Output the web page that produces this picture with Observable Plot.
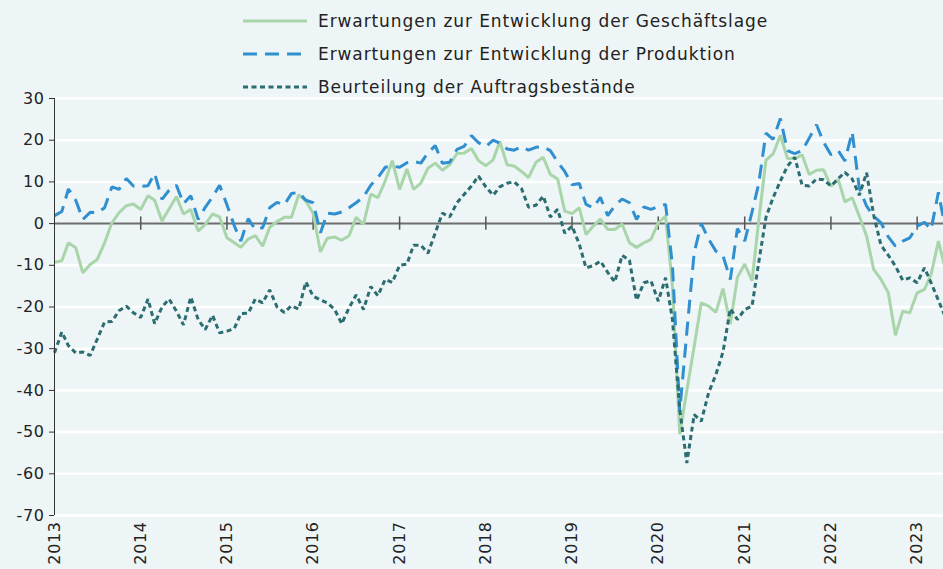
<!DOCTYPE html>
<html><head><meta charset="utf-8">
<script src="https://cdn.jsdelivr.net/npm/d3@7"></script>
<script src="https://cdn.jsdelivr.net/npm/@observablehq/plot@0.6"></script>
<style>
html,body{margin:0;padding:0;background:#eef5f6;}
#wrap{position:relative;width:943px;height:569px;overflow:hidden;background:#eef5f6;font-family:"DejaVu Sans",sans-serif;}
#legend{position:absolute;left:243px;top:4px;}
.row{display:flex;align-items:center;height:33px;font-size:17px;letter-spacing:0.9px;color:#222;white-space:nowrap;}
.row svg{margin-right:11px;}
#chart{position:absolute;left:0;top:0;}
#chart text{letter-spacing:0.6px;}
</style></head><body>
<div id="wrap"><div id="chart"></div><div id="legend"></div></div>
<script>
// Monthly series, Jan 2013 – May 2023
const seriesNames = [
  "Erwartungen zur Entwicklung der Geschäftslage",
  "Erwartungen zur Entwicklung der Produktion",
  "Beurteilung der Auftragsbestände"
];
const geschaeftslage = [
  -9.3, -8.9, -4.6, -5.8, -11.8, -9.8, -8.6, -4.6, 0.2, 2.6, 4.3, 4.7,
  3.4, 6.7, 5.6, 0.6, 3.5, 6.5, 2.3, 3.4, -1.8, -0.2, 2.3, 1.6,
  -3.4, -4.6, -5.7, -3.7, -2.9, -5.4, -0.9, 0.5, 1.5, 1.5, 6.9, 5.4,
  2.5, -6.8, -3.5, -3.2, -4.0, -2.9, 1.5, -0.2, 7.1, 6.2, 10.2, 15.1,
  8.2, 13.1, 8.2, 9.7, 13.3, 14.5, 12.8, 14.1, 16.8, 16.9, 18.0, 15.1,
  13.9, 15.3, 19.7, 14.1, 13.8, 12.5, 11.0, 14.7, 15.9, 11.8, 10.7, 3.0,
  2.4, 3.8, -2.6, -0.6, 1.1, -1.4, -1.4, -0.1, -4.6, -5.7, -4.6, -3.8,
  0.2, 1.8, -15, -50.5, -40, -29.5, -19, -19.8, -21.3, -15.6, -24.1, -12.9,
  -9.7, -13.7, 0.5, 15.2, 16.7, 21.2, 15.6, 15.6, 16.5, 11.8, 12.8, 12.9,
  9.0, 10.6, 5.2, 6.2, 1.8, -3.0, -11.0, -13.4, -16.6, -26.8, -21.0, -21.4,
  -16.6, -15.8, -12.2, -4.2, -11.0
];
const produktion = [
  1.9, 2.9, 8.3, 5.6, 1.0, 2.7, 2.6, 3.8, 8.8, 8.2, 10.8, 9.0,
  8.9, 9.1, 12.0, 5.8, 8.0, 9.2, 4.8, 6.7, 1.0, 3.9, 6.4, 9.2,
  4.5, -0.5, -4.2, 1.2, -1.4, -1.0, 3.8, 5.1, 4.5, 7.2, 7.5, 5.6,
  5.0, -2.2, 2.5, 2.3, 2.8, 3.8, 5.0, 6.4, 9.2, 11.0, 13.5, 13.8,
  13.5, 14.6, 14.9, 14.5, 17.0, 18.7, 14.5, 14.7, 17.8, 18.5, 21.1, 19.4,
  18.5, 20.0, 19.3, 17.9, 17.6, 18.4, 17.6, 18.3, 18.4, 17.5, 14.8, 12.5,
  9.3, 9.6, 4.6, 3.8, 6.3, 1.9, 4.3, 5.9, 5.0, 1.0, 4.0, 3.4,
  4.1, 4.6, -10, -45, -26, -7, 0, -3.7, -6.6, -7.7, -13.4, -1.2,
  -4.2, 2.8, 9.5, 21.7, 20.2, 25.2, 17.5, 16.8, 17.5, 20.5, 23.7, 19.5,
  16.5, 17.5, 15.0, 22.0, 8.5, 4.2, 1.8, 0.2, -3.2, -5.4, -4.2, -3.4,
  -0.6, 0.3, -1.4, 7.5, -1.4
];
const auftragsbestaende = [
  -31.0, -26.0, -29.3, -31.0, -30.8, -31.6, -27.7, -23.6, -23.5, -20.9, -19.8, -21.4,
  -22.5, -18.1, -24.0, -20.0, -18.1, -21.0, -24.3, -17.6, -23.0, -25.4, -22.0, -26.2,
  -25.8, -25.2, -21.6, -21.5, -18.1, -19.0, -15.9, -20.0, -21.3, -19.7, -20.5, -14.0,
  -17.4, -18.3, -19.0, -20.6, -24.0, -20.2, -17.1, -20.6, -15.1, -17.3, -13.4, -14.1,
  -10.0, -9.7, -5.2, -5.2, -7.1, -2.2, 2.5, 1.6, 5.0, 7.0, 9.0, 11.4,
  8.8, 6.8, 8.8, 9.7, 10.0, 8.4, 3.9, 4.4, 6.6, 1.6, 3.4, -2.3,
  -0.6, -5.0, -10.6, -10.1, -9.0, -11.7, -14.0, -7.6, -8.8, -18.4, -14.2, -13.7,
  -18.6, -13.0, -23, -44.6, -57.4, -45.8, -47.4, -40.6, -36.2, -30.8, -20.4, -23.0,
  -20.6, -19.8, -9.4, 1.5, 6.2, 10.2, 13.8, 15.9, 9.2, 9.0, 10.7, 10.5,
  9.0, 10.8, 12.3, 10.7, 6.8, 12.2, 2.0, -5.2, -7.6, -10.2, -13.6, -13.0,
  -14.2, -10.6, -14.2, -18.4, -22.5
];
const yTicks = [30, 20, 10, 0, -10, -20, -30, -40, -50, -60, -70];
const yearLabels = ["2013","2014","2015","2016","2017","2018","2019","2020","2021","2022","2023"];

const colors = ["#a8d5a9", "#2f8fcf", "#2b6d71"];
const dashes = [null, "14,8", "5,3.5"];

const months = d3.utcMonth.range(new Date(Date.UTC(2013, 0, 1)), new Date(Date.UTC(2023, 5, 1)));
const yearDates = yearLabels.map(y => new Date(Date.UTC(+y, 0, 1)));
const allSeries = [geschaeftslage, produktion, auftragsbestaende];
const tables = allSeries.map((vals, k) => vals.map((v, i) => ({date: months[i], value: v, series: seriesNames[k]})));

const font = "'DejaVu Sans', sans-serif";
const chart = Plot.plot({
  width: 943, height: 569,
  marginTop: 98, marginBottom: 54, marginLeft: 54, marginRight: -2,
  style: {background: "transparent", fontFamily: font, fontSize: "16px", color: "#222", overflow: "visible"},
  x: {type: "utc", domain: [months[0], months[months.length - 1]]},
  y: {domain: [-70, 30]},
  marks: [
    Plot.ruleY(yTicks.filter(t => t !== 0), {stroke: "#ffffff", strokeWidth: 2.5}),
    Plot.ruleY([0], {stroke: "#6e6e6e", strokeWidth: 2}),
    Plot.ruleX(yearDates.slice(1), {y1: -1.6, y2: 1.6, stroke: "#555", strokeWidth: 1.5}),
    ...tables.map((t, k) => Plot.lineY(t, {
      x: "date", y: "value", stroke: colors[k], strokeWidth: 3,
      strokeDasharray: dashes[k], strokeLinejoin: "miter", strokeLinecap: "butt"
    })),
    Plot.ruleX([months[0]], {y1: -70, y2: 30, stroke: "#333", strokeWidth: 1}),
    Plot.axisY({ticks: yTicks, label: null, tickSize: 5, tickPadding: 5, tickFormat: d => String(d), fontSize: 16, stroke: "#333", fill: "#222"}),
    Plot.axisX({ticks: yearDates, label: null, tickFormat: d => String(d.getUTCFullYear()), tickRotate: -90, tickSize: 0, tickPadding: 6, fontSize: 16, fill: "#222"})
  ]
});
document.getElementById("chart").appendChild(chart);

// Legend
const legend = document.getElementById("legend");
seriesNames.forEach((name, k) => {
  const row = document.createElement("div");
  row.className = "row";
  const dash = dashes[k] ? `stroke-dasharray="${dashes[k]}"` : "";
  row.innerHTML = `<svg width="64" height="10"><line x1="0" y1="5" x2="64" y2="5" stroke="${colors[k]}" stroke-width="3" ${dash}/></svg><span>${name}</span>`;
  legend.appendChild(row);
});
</script>
</body></html>
